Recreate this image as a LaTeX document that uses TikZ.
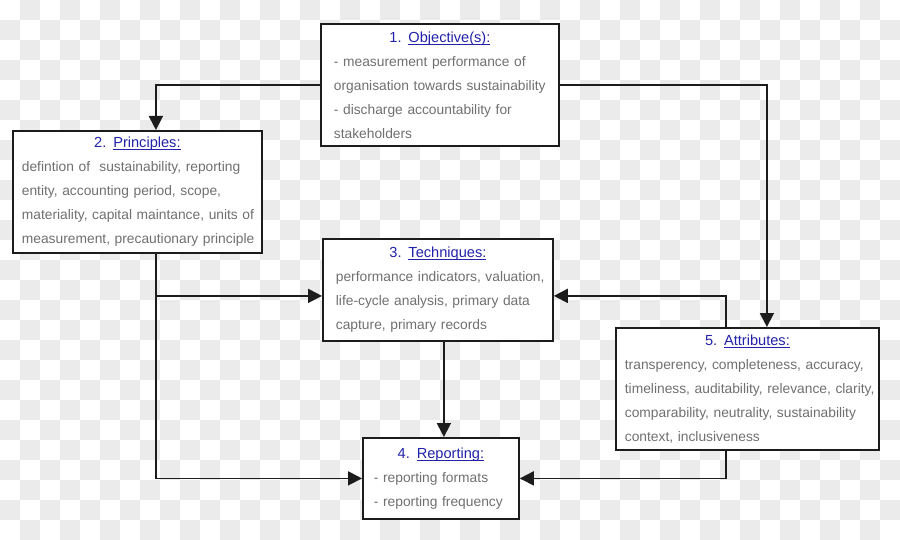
\documentclass[tikz,border=0pt]{standalone}
\usepackage{fontspec}
\setmainfont{Liberation Sans}
\usetikzlibrary{arrows.meta}

\definecolor{tilegray}{HTML}{EBEBEB}
\definecolor{headblue}{HTML}{2222AA}
\definecolor{bodygray}{HTML}{707070}
\definecolor{wiregray}{HTML}{1C1C1C}

\newcommand\headline[2]{%
    \hbox to \hsize{\hfil\fontsize{14.6}{24}\selectfont
        \textcolor{headblue}{#1 \underl{#2}}\hfil}}
\newcommand\underl[1]{%
    \setbox0\hbox{#1}\rlap{\rule[-2.4pt]{\wd0}{0.8pt}}\box0}
\newcommand\row[1]{\mbox{\hspace*{3pt}#1}}

\tikzset{
    stage/.style={draw=wiregray, line width=1.8pt, fill=white,
        anchor=north west, inner ysep=0pt, align=left,
        text=bodygray, font=\fontsize{13.8}{24}\selectfont},
    flow/.style={draw=wiregray, line width=1.8pt,
        -{Triangle[length=14pt,width=14pt]}},
}

\begin{document}
\begin{tikzpicture}[x=1pt, y=-1pt]
    \useasboundingbox (0,0) rectangle (900,540);
    \foreach \i in {0,...,44} {
        \foreach \j in {0,...,26} {
            \pgfmathtruncatemacro\odd{mod(\i+\j,2)}
            \ifnum\odd=1
                \fill [tilegray] (20*\i,20*\j) rectangle ++(20,20);
            \fi
        }
    }

    \node [stage, minimum width=238pt, minimum height=122pt,
           text width=218pt, inner xsep=10pt]
        (objective) at (320,23)
        {\headline{1.}{Objective(s):}
         \row{- measurement performance of}\\
         \row{organisation towards sustainability}\\
         \row{- discharge accountability for}\\
         \row{stakeholders}}
        ;
    \node [stage, minimum width=249pt, minimum height=122pt,
           text width=237pt, inner xsep=6pt]
        (principles) at (12,130)
        {\headline{2.}{Principles:}
         \row{defintion of \ sustainability, reporting}\\
         \row{entity, accounting period, scope,}\\
         \row{materiality, capital maintance, units of}\\
         \row{measurement, precautionary principle}}
        ;
    \node [stage, minimum width=230pt, minimum height=102pt,
           text width=210pt, inner xsep=10pt]
        (techniques) at (322,238)
        {\headline{3.}{Techniques:}
         \row{performance indicators, valuation,}\\
         \row{life-cycle analysis, primary data}\\
         \row{capture, primary records}}
        ;
    \node [stage, minimum width=156pt, minimum height=81pt,
           text width=140pt, inner xsep=8pt]
        (reporting) at (362,437)
        {\headline{4.}{Reporting:}
         \row{- reporting formats}\\
         \row{- reporting frequency}}
        ;
    \node [stage, minimum width=263pt, minimum height=122pt,
           text width=255pt, inner xsep=4pt]
        (attributes) at (615,327)
        {\headline{5.}{Attributes:}
         \row{\hspace*{2pt}transperency, completeness, accuracy,}\\
         \row{\hspace*{2pt}timeliness, auditability, relevance, clarity,}\\
         \row{\hspace*{2pt}comparability, neutrality, sustainability}\\
         \row{\hspace*{2pt}context, inclusiveness}}
        ;

    \coordinate (leftdrop) at ([xshift=18.5pt]principles.south);
    \coordinate (rightdrop) at ([xshift=-21.5pt]attributes.south);
    \coordinate (techin) at ([yshift=-6pt]techniques.west);
    \coordinate (techback) at ([yshift=-6pt]techniques.east);

    \draw [flow]
        (objective.west) -| ([xshift=18.5pt]principles.north)
        ;
    \draw [flow]
        (objective.east) -| ([xshift=19.5pt]attributes.north)
        ;
    \draw [flow]
        (leftdrop) |- (reporting.west)
        ;
    \draw [flow]
        (leftdrop |- techin) -- (techin)
        ;
    \draw [flow]
        ([xshift=-21.5pt]attributes.north) |- (techback)
        ;
    \draw [flow]
        (rightdrop) |- (reporting.east)
        ;
    \draw [flow]
        ([xshift=6pt]techniques.south) -- ([xshift=6pt]techniques.south |- reporting.north)
        ;
\end{tikzpicture}
\end{document}
